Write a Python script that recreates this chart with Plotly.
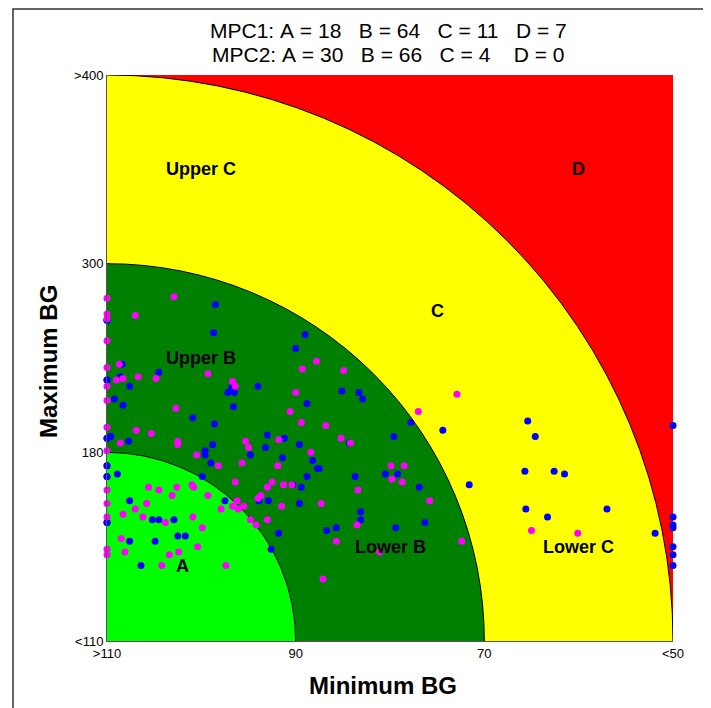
import numpy as np
import plotly.graph_objects as go

# ---------------- data (BG values, mg/dL; 110 on min axis = ">110", 50 = "<50") -------------
x_tick_labels = [">110", "90", "70", "<50"]
y_tick_labels = ["<110", "180", "300", ">400"]
x_tick_bg = [110, 90, 70, 50]
y_tick_bg = [110, 180, 300, 400]

mpc1_min = [98.5, 110, 98.7, 108.4, 104.5, 108.6, 110, 107.6, 94.0, 96.8,
            97.2, 96.5, 109.2, 108.3, 96.6, 100.9, 98.6, 93.0, 110, 109.6,
            107.7, 89.0, 90.0, 85.1, 83.3, 82.9, 88.8, 77.8, 79.6, 91.2,
            98.8, 99.6, 99.6, 93.2, 94.8, 99.0, 99.9, 92.9, 93.9, 91.8,
            89.6, 84.3, 91.4, 88.2, 87.7, 87.5, 88.8, 83.7, 80.5, 79.2,
            90.3, 89.4, 76.9, 89.6, 83.1, 83.1, 76.3, 86.7, 85.7, 79.4,
            110, 110, 110, 109.6,
            110, 108.9, 110, 107.6, 97.5, 105.2, 104.5, 102.9, 110, 102.5,
            101.7, 107.6, 104.9, 92.6, 106.4, 110, 110, 110,
            65.4, 64.6, 71.6, 65.7, 62.6, 61.5, 65.6, 63.3, 57.0, 51.9, 74.4,
            50, 50, 50, 50, 50, 50, 50]
mpc1_max = [274, 264, 256, 236, 231, 228, 226, 222, 222, 221,
            218, 218, 214, 210, 209, 202, 198, 191, 189, 190,
            187, 255, 246, 219, 218, 214, 211, 199, 190, 189,
            185, 181, 179, 183, 179, 176, 171, 162, 162, 150,
            185, 186, 178, 177, 174, 174, 171, 171, 172, 172,
            168, 167, 167, 161, 158, 155, 154, 151, 152, 152,
            226, 264, 189, 190,
            175, 172, 171, 162, 162, 155, 155, 155, 154, 149,
            149, 147, 147, 144, 138, 171, 154, 175,
            200, 190, 168, 173, 173, 172, 159, 156, 159, 150, 194,
            197, 156, 153, 152, 145, 142, 138]

mpc2_min = [110, 102.9, 110, 110, 107.0, 110, 108.7, 110, 109.0, 108.3,
            106.7, 104.8, 110, 99.3, 96.7, 96.4, 110, 102.7, 110, 106.9,
            105.3, 87.8, 89.3, 84.9, 90.0, 72.9, 90.6, 77.0, 89.4, 86.8,
            85.2, 108.6, 102.5, 102.5, 95.3, 91.8, 110, 100.5, 95.0, 95.7,
            98.2, 91.9, 96.4, 92.5, 91.3, 101.0, 100.8, 110, 105.6, 104.5,
            102.6, 103.1, 99.3, 93.0, 93.7, 94.0, 110, 105.8, 96.2, 97.9,
            96.7, 96.1, 95.5, 91.5, 107.0, 108.3, 110, 106.2, 103.8, 100.9,
            94.8, 94.2, 93.0, 99.9, 108.5, 110, 110, 108.1, 102.4, 100.4,
            103.4, 104.2, 97.4, 84.2, 88.4, 79.9, 78.5, 79.8, 78.7, 90.4,
            83.4, 75.8, 87.3, 83.5, 85.7, 72.4, 81.1, 87.1, 65.0, 60.1]
mpc2_max = [278, 279, 268, 265, 267, 251, 236, 234, 226, 227,
            228, 227, 222, 230, 225, 222, 213, 208, 196, 194,
            192, 238, 233, 232, 218, 217, 206, 206, 199, 197,
            189, 186, 187, 185, 187, 188, 181, 179, 183, 176,
            175, 175, 169, 169, 168, 168, 167, 166, 167, 166,
            167, 164, 164, 167, 164, 163, 161, 161, 162, 159,
            160, 159, 160, 160, 159, 157, 156, 156, 154, 156,
            155, 153, 155, 152, 148, 144, 142, 143, 143, 145,
            142, 138, 138, 186, 180, 175, 175, 170, 169, 168,
            166, 162, 161, 153, 147, 147, 143, 133, 151, 150]

title_line1 = "MPC1: A = 18   B = 64   C = 11   D = 7"
title_line2 = "MPC2: A = 30   B = 66   C = 4    D = 0"

zone_labels = ["Upper C", "D", "C", "Upper B", "Lower B", "Lower C", "A"]
zone_label_u = [0.5, 2.5, 1.75, 0.5, 1.5, 2.5, 0.4]
zone_label_v = [2.5, 2.5, 1.75, 1.5, 0.5, 0.5, 0.4]

# ---------------- scales ----------------
grid = [0, 1, 2, 3]


def sx(v):
    return np.interp(-np.asarray(v, float), [-b for b in x_tick_bg], grid)


def sy(v):
    return np.interp(np.asarray(v, float), y_tick_bg, grid)


FONT = "Liberation Sans, Arial, Helvetica, sans-serif"
W, H = 703, 700
ML, MR, MT, MB = 99, 38, 67, 67
PW = W - ML - MR  # 566
PH = H - MT - MB  # 566

fig = go.Figure()

# zones
shapes = [dict(type="rect", xref="x", yref="y", x0=0, x1=3, y0=0, y1=3,
               fillcolor="#FF0000", line=dict(width=0), layer="below")]
for r, col in [(3, "#FFFF00"), (2, "#008000"), (1, "#00FF00")]:
    shapes.append(dict(type="circle", xref="x", yref="y", x0=-r, x1=r, y0=-r, y1=r,
                       fillcolor=col, line=dict(color="black", width=1), layer="below"))
# outer frame (figure px: left 5, top ~1, right 699)
shapes.append(dict(type="rect", xref="paper", yref="paper",
                   x0=(5 - ML) / PW, x1=(699 - ML) / PW,
                   y0=-0.3, y1=1 + (MT - 1.0) / PH,
                   line=dict(color="#333333", width=1.5), fillcolor="rgba(0,0,0,0)"))

fig.add_trace(go.Scatter(x=sx(mpc1_min), y=sy(mpc1_max), mode="markers", name="MPC1",
                         marker=dict(color="#0000FF", size=7, line=dict(width=0)),
                         cliponaxis=False))
fig.add_trace(go.Scatter(x=sx(mpc2_min), y=sy(mpc2_max), mode="markers", name="MPC2",
                         marker=dict(color="#FF00FF", size=7, line=dict(width=0)),
                         cliponaxis=False))


def py(screen_y):
    return 1 + (75 - screen_y) / PH


def px(screen_x):
    return (screen_x - 107) / PW


def ann(text, x, y, size, angle=0):
    return dict(x=x, y=y, xref="paper", yref="paper", text=text, showarrow=False,
                xanchor="center", yanchor="middle", textangle=angle,
                font=dict(family=FONT, size=size, color="black"))


annotations = []
for t, u, v in zip(zone_labels, zone_label_u, zone_label_v):
    annotations.append(dict(x=u, y=v, xref="x", yref="y", text="<b>%s</b>" % t,
                            xanchor="center", yanchor="middle",
                            showarrow=False, font=dict(family=FONT, size=18, color="black")))
annotations.append(ann(title_line1.replace(" ", "\u00a0"), px(388), py(31), 21))
annotations.append(ann(title_line2.replace(" ", "\u00a0"), px(388), py(55), 21))
annotations.append(ann("<b>Minimum BG</b>", px(383), py(686), 24))
annotations.append(ann("<b>Maximum BG</b>", px(48), py(362), 24, -90))

fig.update_layout(
    width=W, height=H,
    margin=dict(l=ML, r=MR, t=MT, b=MB),
    paper_bgcolor="white", plot_bgcolor="white",
    showlegend=False,
    shapes=shapes, annotations=annotations,
    xaxis=dict(range=[0, 3], tickvals=grid, ticktext=x_tick_labels, showgrid=False,
               zeroline=False, showline=True, linecolor="#555555", linewidth=1,
               ticks="", tickfont=dict(family=FONT, size=13, color="black")),
    yaxis=dict(range=[0, 3], tickvals=grid, ticktext=y_tick_labels, showgrid=False,
               zeroline=False, showline=True, linecolor="#555555", linewidth=1,
               ticks="", tickfont=dict(family=FONT, size=13, color="black")),
)

fig.write_html("out.html")
